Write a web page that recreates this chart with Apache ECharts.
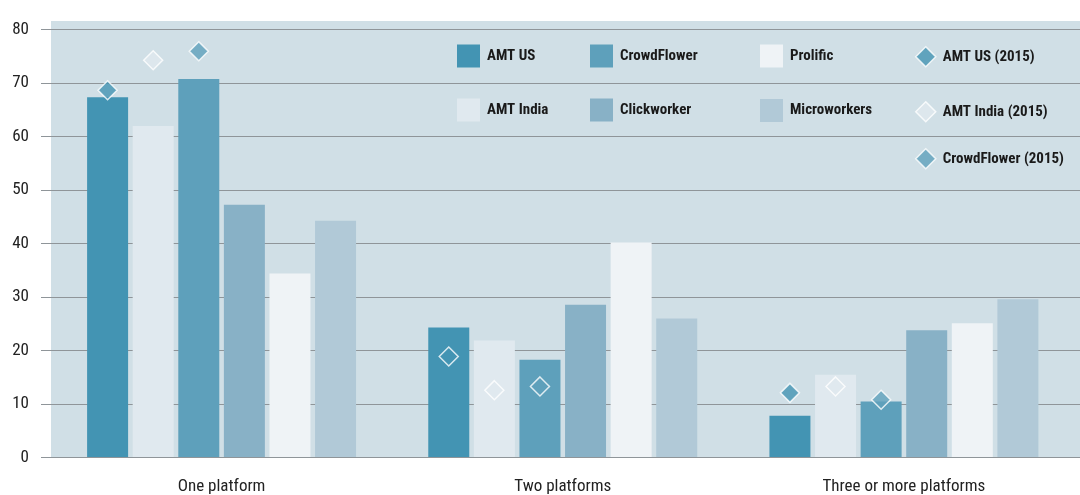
<!DOCTYPE html>
<html>
<head>
<meta charset="utf-8">
<script src="https://cdn.jsdelivr.net/npm/echarts@6/dist/echarts.min.js"></script>
<style>
  html, body { margin: 0; padding: 0; background: #fff; }
  #chart { width: 1080px; height: 495px; }
</style>
</head>
<body>
<div id="chart"></div>
<script>
// categories and values
const categories = ['One platform', 'Two platforms', 'Three or more platforms'];
const yTicks = [0, 10, 20, 30, 40, 50, 60, 70, 80];

const amtUS = [67.3, 24.2, 7.7];
const amtIndia = [61.9, 21.8, 15.4];
const crowdFlower = [70.7, 18.2, 10.4];
const clickworker = [47.2, 28.5, 23.7];
const prolific = [34.3, 40.1, 25.0];
const microworkers = [44.2, 25.9, 29.5];

const amtUS2015 = [68.6, 18.8, 12.0];
const amtIndia2015 = [74.2, 12.5, 13.2];
const crowdFlower2015 = [75.9, 13.2, 10.7];

const FONT = '"Liberation Sans Narrow", "Roboto Condensed", "DejaVu Sans Condensed", Roboto, sans-serif';
const barWidth = 41;
const gapPx = 4.6;
const step = barWidth + gapPx;

const colors = {
  amtUS: '#4394b3',
  amtIndia: '#e0e9ef',
  crowdFlower: '#5ea0bb',
  clickworker: '#88b1c6',
  prolific: '#eff3f6',
  microworkers: '#b1c9d7'
};

const barDefs = [
  ['AMT US', amtUS, colors.amtUS],
  ['AMT India', amtIndia, colors.amtIndia],
  ['CrowdFlower', crowdFlower, colors.crowdFlower],
  ['Clickworker', clickworker, colors.clickworker],
  ['Prolific', prolific, colors.prolific],
  ['Microworkers', microworkers, colors.microworkers]
];
// diamonds sit over the bar with the same index
const dotDefs = [
  ['AMT US (2015)', amtUS2015, colors.amtUS, 0],
  ['AMT India (2015)', amtIndia2015, colors.amtIndia, 1],
  ['CrowdFlower (2015)', crowdFlower2015, colors.crowdFlower, 2]
];

let series = [];
barDefs.forEach(function (d) {
  series.push({
    name: d[0],
    type: 'bar',
    xAxisIndex: 1,
    yAxisIndex: 1,
    barWidth: barWidth,
    barGap: (gapPx / barWidth * 100).toFixed(1) + '%',
    itemStyle: { color: d[2] },
    data: d[1],
    z: 2
  });
});
dotDefs.forEach(function (d) {
  series.push({
    name: d[0],
    type: 'scatter',
    xAxisIndex: 1,
    yAxisIndex: 1,
    symbol: 'diamond',
    symbolSize: 19,
    symbolOffset: [(d[3] - 2.5) * step, 0],
    itemStyle: { color: d[2], borderColor: '#ffffff', borderWidth: 1.5 },
    data: d[1],
    z: 5
  });
});

// one legend per item so the columns line up like the original
const legendSlots = [
  ['AMT US', 457, 56], ['AMT India', 457, 110],
  ['CrowdFlower', 590, 56], ['Clickworker', 590, 110],
  ['Prolific', 760, 56], ['Microworkers', 760, 110.5],
  ['AMT US (2015)', 915, 56], ['AMT India (2015)', 915, 111], ['CrowdFlower (2015)', 915, 158]
];
let legends = legendSlots.map(function (s) {
  const isDot = s[0].indexOf('2015') >= 0;
  const h = isDot ? 20 : 23;
  return {
    data: [isDot ? s[0] : { name: s[0], icon: 'rect' }],
    left: s[1],
    top: s[2] - h / 2,
    padding: 0,
    itemWidth: h,
    itemHeight: h,
    selectedMode: false,
    itemStyle: isDot ? { borderWidth: 1.5 } : {},
    textStyle: { fontFamily: FONT, fontSize: 15, fontWeight: 'bold', color: '#1a1a1a', padding: [0, 0, 0, 2] }
  };
});

const chart = echarts.init(document.getElementById('chart'));
const option = {
  animation: false,
  backgroundColor: '#ffffff',
  graphic: [{
    type: 'rect',
    z: -10,
    shape: { x: 51, y: 21, width: 1029, height: 436.3 },
    style: { fill: '#d0dfe6' }
  }],
  legend: legends,
  grid: [
    { left: 41, right: 0, top: 29.3, bottom: 37.7 },
    { left: 51, right: 5.5, top: 29.3, bottom: 37.7 }
  ],
  xAxis: [
    { type: 'category', gridIndex: 0, data: categories, show: false },
    {
      type: 'category',
      gridIndex: 1,
      data: categories,
      axisLine: { show: false },
      axisTick: { show: false },
      axisLabel: { fontFamily: FONT, fontSize: 17, color: '#222', margin: 21 }
    }
  ],
  yAxis: [
    {
      type: 'value',
      gridIndex: 0,
      min: yTicks[0],
      max: yTicks[yTicks.length - 1],
      interval: 10,
      axisLine: { show: false },
      axisTick: { show: false },
      axisLabel: { fontFamily: FONT, fontSize: 17, color: '#222', margin: 12 },
      splitLine: { lineStyle: { color: '#8f9599', width: 1.2 } }
    },
    {
      type: 'value',
      gridIndex: 1,
      min: yTicks[0],
      max: yTicks[yTicks.length - 1],
      interval: 10,
      show: false,
      splitLine: { show: false }
    }
  ],
  series: series
};
chart.setOption(option);
</script>
</body>
</html>
